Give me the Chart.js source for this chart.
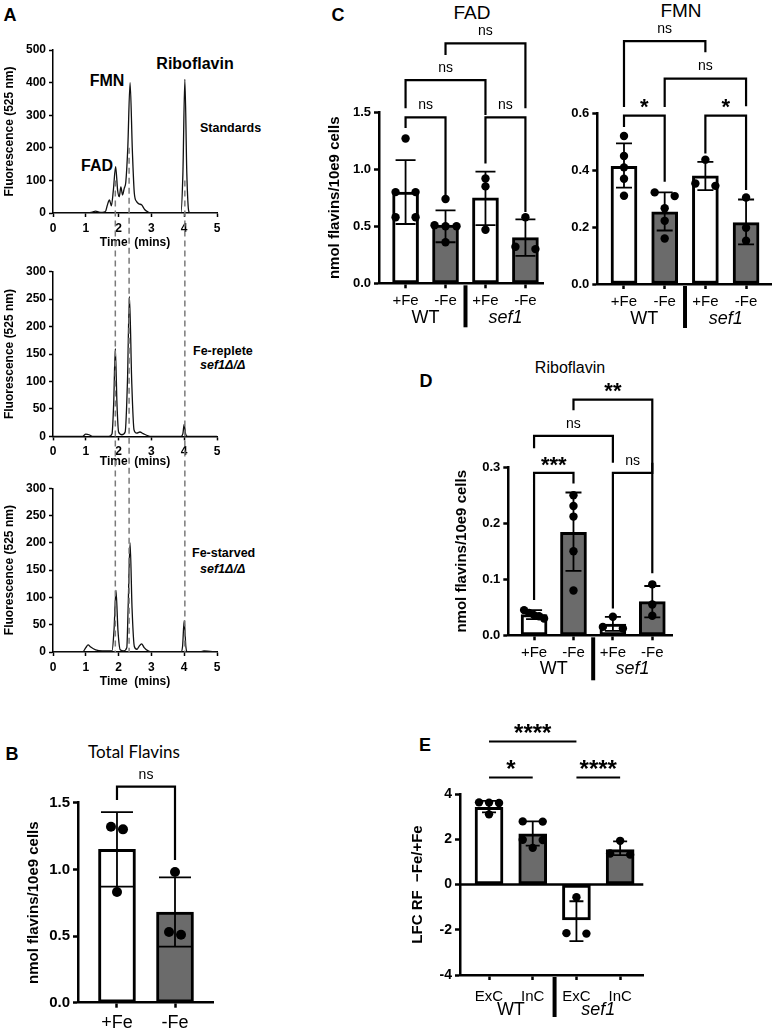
<!DOCTYPE html>
<html>
<head>
<meta charset="utf-8">
<title>Flavins</title>
<script src="https://cdn.jsdelivr.net/npm/chart.js@4.4.1/dist/chart.umd.min.js"></script>
<style>
  html, body { margin: 0; padding: 0; background: #fff; }
  #page { position: relative; width: 778px; height: 1032px; overflow: hidden;
          font-family: "Liberation Sans", Arial, sans-serif; color: #000; }
  #page canvas { position: absolute; left: 0; top: 0; }
  .t { position: absolute; white-space: nowrap; line-height: 1; transform: translate(-50%, -50%); }
  .l { transform: translate(0, -50%); }
  .b { font-weight: bold; }
  .i { font-style: italic; }
</style>
</head>
<body>
<div id="page">
  <!-- panel letters -->
  <div class="t b" style="left:10px;top:15px;font-size:18px">A</div>
  <div class="t b" style="left:12px;top:754px;font-size:18px">B</div>
  <div class="t b" style="left:338px;top:15px;font-size:18px">C</div>
  <div class="t b" style="left:426px;top:381px;font-size:18px">D</div>
  <div class="t b" style="left:425px;top:745px;font-size:18px">E</div>

  <!-- panel A annotations -->
  <div class="t b" style="left:107px;top:81px;font-size:16px">FMN</div>
  <div class="t b" style="left:195px;top:64px;font-size:16px">Riboflavin</div>
  <div class="t b" style="left:97px;top:166px;font-size:16px">FAD</div>
  <div class="t b l" style="left:200px;top:128px;font-size:12.5px">Standards</div>
  <div class="t b l" style="left:193px;top:351px;font-size:12.5px">Fe-replete</div>
  <div class="t b i l" style="left:200px;top:365px;font-size:12.5px">sef1Δ/Δ</div>
  <div class="t b l" style="left:192px;top:553px;font-size:12.5px">Fe-starved</div>
  <div class="t b i l" style="left:200px;top:569px;font-size:12.5px">sef1Δ/Δ</div>

  <!-- panel titles -->
  <div class="t" style="left:134px;top:751px;font-size:17px;font-family:Lato,sans-serif">Total Flavins</div>
  <div class="t" style="left:472px;top:12px;font-size:19px">FAD</div>
  <div class="t" style="left:681px;top:10px;font-size:19px">FMN</div>
  <div class="t" style="left:570px;top:368px;font-size:16px">Riboflavin</div>
</div>

<script>
// ---------- A: HPLC traces (time in mins, fluorescence at 525 nm) ----------
const stdTime  = [0, 0.5, 1.0, 1.2, 1.3, 1.4, 1.5, 1.6, 1.66, 1.72, 1.78, 1.84, 1.91, 1.97, 2.02, 2.07, 2.12, 2.17, 2.22, 2.28, 2.35, 2.42, 2.48, 2.55, 2.62, 2.7, 2.8, 2.9, 3.0, 3.5, 3.9, 3.96, 4.02, 4.08, 4.14, 4.2, 4.6, 5.0];
const stdFluor = [0, 0, 0, 3, 6, 3, 2, 5, 25, 40, 22, 70, 142, 70, 50, 80, 55, 75, 95, 200, 400, 190, 60, 35, 28, 25, 10, 3, 0, 0, 0, 120, 410, 120, 5, 0, 0, 0];

const repTime  = [0, 0.9, 1.0, 1.1, 1.2, 1.7, 1.8, 1.85, 1.9, 1.95, 2.0, 2.1, 2.2, 2.27, 2.33, 2.4, 2.47, 2.55, 2.65, 2.75, 2.9, 3.0, 3.9, 3.96, 4.0, 4.04, 4.1, 5.0];
const repFluor = [0, 0, 4, 3, 0, 0, 5, 60, 160, 60, 8, 3, 8, 100, 255, 100, 12, 6, 8, 5, 1, 0, 0, 5, 22, 5, 0, 0];

const stvTime  = [0, 0.9, 1.0, 1.07, 1.15, 1.3, 1.5, 1.8, 1.86, 1.92, 1.98, 2.05, 2.15, 2.25, 2.29, 2.35, 2.41, 2.48, 2.56, 2.62, 2.7, 2.78, 2.9, 3.0, 3.9, 3.95, 4.0, 4.05, 4.1, 4.5, 4.6, 5.0];
const stvFluor = [0, 0, 8, 13, 9, 4, 2, 2, 40, 113, 40, 4, 2, 8, 80, 200, 80, 10, 5, 10, 15, 8, 2, 0, 0, 10, 58, 10, 0, 0, 2, 0];

const peakTimes = [1.9, 2.32, 4.02];     // FAD, FMN, riboflavin
const peakGuideFrom = [100, 200, 100];   // fluorescence on the standards trace where guides start

// ---------- B: total flavins ----------
const totalLabels = ["+Fe", "-Fe"];
const totalMean = [1.15, 0.68];
const totalErr = [[0.87, 1.43], [0.42, 0.94]];
const totalPts = [[1.32, 1.30, 0.83], [0.98, 0.51, 0.53]];
const totalSig = [[0, 1, 1.62, 1.52, 1.07, "ns"]];

// ---------- C: FAD and FMN ----------
const feLabels = ["+Fe", "-Fe", "+Fe", "-Fe"];
const strainGroups = ["WT", "sef1"];

const fadMean = [0.80, 0.51, 0.75, 0.40];
const fadErr = [[0.52, 1.08], [0.36, 0.64], [0.51, 0.98], [0.24, 0.56]];
const fadPts = [[1.27, 0.80, 0.80, 0.58, 0.58], [0.74, 0.51, 0.50, 0.50, 0.36], [0.92, 0.85, 0.47], [0.58, 0.30, 0.32]];
const fadSig = [[0, 1, 1.456, 1.362, 0.76, "ns"], [2, 3, 1.456, 1.05, 0.625, "ns"],
                [0, 2, 1.783, 1.535, 1.476, "ns"], [1, 3, 2.105, 2.003, 1.535, "ns"]];

const fmnMean = [0.414, 0.254, 0.38, 0.216];
const fmnErr = [[0.339, 0.494], [0.188, 0.322], [0.33, 0.429], [0.139, 0.297]];
const fmnPts = [[0.52, 0.45, 0.41, 0.37, 0.31], [0.322, 0.309, 0.266, 0.222, 0.16], [0.437, 0.353, 0.345], [0.304, 0.198, 0.152]];
const fmnSig = [[0, 1, 0.592, 0.552, 0.359, "*"], [2, 3, 0.592, 0.459, 0.33, "*"],
                [0, 2, 0.854, 0.622, 0.815, "ns"], [1, 3, 0.722, 0.622, 0.625, "ns"]];

// ---------- D: riboflavin ----------
const riboMean = [0.037, 0.184, 0.02, 0.06];
const riboErr = [[0.029, 0.045], [0.115, 0.255], [0.008, 0.033], [0.032, 0.088]];
const riboPts = [[0.045, 0.040, 0.036, 0.034, 0.030], [0.25, 0.231, 0.212, 0.15, 0.08], [0.033, 0.015, 0.012], [0.091, 0.055, 0.035]];
const riboSig = [[0, 1, 0.290, 0.063, 0.271, "***"], [0, 2, 0.356, 0.334, 0.308, "ns"],
                 [2, 3, 0.290, 0.048, 0.308, "ns"], [1, 3, 0.421, 0.402, 0.111, "**"]];

// ---------- E: log fold change of riboflavin ----------
const lfcLabels = ["ExC", "InC", "ExC", "InC"];
const lfcMean = [3.41, 2.24, -1.57, 1.54];
const lfcErr = [[3.19, 3.70], [1.72, 2.79], [-2.5, -0.74], [1.3, 1.91]];
const lfcPts = [[3.63, 3.62, 3.60, 3.1], [2.79, 2.78, 1.98, 1.97, 1.62], [-0.56, -2.15, -2.17], [1.93, 1.37, 1.32]];
const lfcSig = [[0, 2, 6.32, 6.32, 6.32, "****"], [0, 1, 4.73, 4.73, 4.73, "*"], [2, 3, 4.73, 4.73, 4.73, "****"]];

// ---------------------------------------------------------------------------
const W = 778, H = 1032;
const FONT = '"Liberation Sans", Arial, sans-serif';
const GREY = "#6b6b6b";
Chart.defaults.font.family = FONT;
Chart.defaults.color = "#000";

function newCanvas() {
  const cv = document.createElement("canvas");
  cv.width = W;
  cv.height = H;
  document.getElementById("page").appendChild(cv);
  return cv;
}

// padding so that the plot area lands on the given box
function padFor(area, yw, xh) {
  return { left: area.l - yw, top: area.t, right: W - area.r, bottom: H - area.b - xh };
}

function axisLook(width, tick) {
  return {
    offset: false,
    grid: { display: true, offset: false, drawOnChartArea: false, drawTicks: true, tickLength: tick, tickWidth: width, tickColor: "#000" },
    border: { display: true, color: "#000", width: width },
  };
}

// ---------- chromatogram ----------
const traces = [];
function chromChart(time, fluor, area, yMax, yStep, xTitleY, extra) {
  const yw = area.l - 10 + 7.2;
  const xh = xTitleY - area.b + 7.2;
  const chart = new Chart(newCanvas(), {
    type: "line",
    data: {
      datasets: [{
        data: time.map((t, i) => ({ x: t, y: fluor[i] })),
        borderColor: "#111",
        borderWidth: 1.3,
        pointRadius: 0,
        cubicInterpolationMode: "monotone",
      }],
    },
    options: {
      responsive: false, animation: false, devicePixelRatio: 1, events: [],
      layout: { padding: padFor(area, yw, xh) },
      plugins: { legend: { display: false }, tooltip: { enabled: false } },
      scales: {
        x: Object.assign({
          type: "linear", min: 0, max: 5,
          afterFit: (s) => { s.height = xh; },
          ticks: { stepSize: 1, font: { size: 12, weight: "bold" }, padding: 4, maxRotation: 0 },
          title: { display: true, text: "Time  (mins)", font: { size: 12, weight: "bold" }, padding: 0 },
        }, axisLook(1.5, 4)),
        y: Object.assign({
          min: 0, max: yMax,
          afterFit: (s) => { s.width = yw; },
          ticks: { stepSize: yStep, font: { size: 12, weight: "bold" }, padding: 3 },
          title: { display: true, text: "Fluorescence (525 nm)", font: { size: 12, weight: "bold" }, padding: 0 },
        }, axisLook(1.5, 4)),
      },
    },
    plugins: extra ? [extra] : [],
  });
  traces.push(chart);
  return chart;
}

const peakGuides = {
  id: "peakGuides",
  afterDraw(chart) {
    const { ctx, scales: { x, y } } = chart;
    const top = traces[0].scales.y;
    ctx.save();
    ctx.strokeStyle = "#7a7a7a";
    ctx.lineWidth = 1.5;
    ctx.setLineDash([6, 4]);
    peakTimes.forEach((t, k) => {
      const px = x.getPixelForValue(t);
      ctx.beginPath();
      ctx.moveTo(px, top.getPixelForValue(peakGuideFrom[k]));
      ctx.lineTo(px, y.getPixelForValue(0));
      ctx.stroke();
    });
    ctx.restore();
  },
};

chromChart(stdTime, stdFluor, { l: 53, r: 217, t: 50, b: 213 }, 500, 100, 243);
chromChart(repTime, repFluor, { l: 53, r: 217, t: 271.7, b: 436.4 }, 300, 50, 462);
chromChart(stvTime, stvFluor, { l: 53, r: 217, t: 488.3, b: 652 }, 300, 50, 682, peakGuides);

// ---------- bar + dot panels ----------
// spread dots that would overlap sideways, like a scatter dot plot
function spread(vals, tol, step, maxW) {
  const order = vals.map((v, i) => i).sort((m, n) => vals[n] - vals[m]);
  const off = vals.map(() => 0);
  let grp = [];
  const place = () => {
    const n = grp.length;
    const w = Math.min((n - 1) * step, maxW);
    grp.forEach((k, j) => { off[k] = n > 1 ? -w / 2 + (j * w) / (n - 1) : 0; });
  };
  order.forEach((k) => {
    if (grp.length && vals[grp[grp.length - 1]] - vals[k] > tol) { place(); grp = []; }
    grp.push(k);
  });
  place();
  return off;
}

function barPanel(p) {
  const a = p.area;
  const pxX = (a.r - a.l) / (p.xMax - p.xMin);
  const pxY = (a.b - a.t) / (p.yMax - p.yMin);
  const dots = [];
  p.pts.forEach((vals, i) => {
    spread(vals, 5 / pxY, p.jit / pxX, p.jitMax / pxX).forEach((dx, k) => dots.push({ x: i + dx, y: vals[k] }));
  });
  const yw = p.yTitle ? a.l - p.yTitleX + 9 : 30;
  const xh = p.xh || 40;

  const marks = {
    id: "marks",
    afterDatasetsDraw(chart) {
      const { ctx, scales: { x, y } } = chart;
      ctx.save();
      ctx.strokeStyle = "#000";
      if (p.zeroLine) {
        ctx.lineWidth = 2.5;
        ctx.beginPath();
        ctx.moveTo(x.left, y.getPixelForValue(0));
        ctx.lineTo(x.right, y.getPixelForValue(0));
        ctx.stroke();
      }
      ctx.lineWidth = 1.8;
      p.err.forEach((e, i) => {
        const px = x.getPixelForValue(i);
        const lo = y.getPixelForValue(e[0]);
        const hi = y.getPixelForValue(e[1]);
        ctx.beginPath();
        ctx.moveTo(px, lo); ctx.lineTo(px, hi);
        ctx.moveTo(px - p.cap, lo); ctx.lineTo(px + p.cap, lo);
        ctx.moveTo(px - p.cap, hi); ctx.lineTo(px + p.cap, hi);
        ctx.stroke();
      });
      ctx.restore();
    },
    afterDraw(chart) {
      const { ctx, scales: { x, y }, chartArea } = chart;
      ctx.save();
      ctx.strokeStyle = "#000";
      ctx.fillStyle = "#000";
      ctx.textAlign = "center";
      ctx.textBaseline = "middle";
      ctx.lineWidth = 2.2;
      p.sig.forEach(([i, j, top, endL, endR, txt]) => {
        const xl = x.getPixelForValue(i), xr = x.getPixelForValue(j), yt = y.getPixelForValue(top);
        ctx.beginPath();
        ctx.moveTo(xl, y.getPixelForValue(endL));
        ctx.lineTo(xl, yt);
        ctx.lineTo(xr, yt);
        ctx.lineTo(xr, y.getPixelForValue(endR));
        ctx.stroke();
        const star = txt.indexOf("*") >= 0;
        ctx.font = star ? "bold " + p.starSize + "px " + FONT : "14px " + FONT;
        ctx.fillText(txt, (xl + xr) / 2, yt - 12 + (star ? p.starSize * 0.22 : 0));
      });
      if (p.groups) {
        p.groups.forEach((g, k) => {
          ctx.font = (k === 1 ? "italic " : "") + "18px " + FONT;
          const cx = (x.getPixelForValue(2 * k) + x.getPixelForValue(2 * k + 1)) / 2;
          ctx.fillText(g, cx, chartArea.bottom + p.groupDy);
        });
        const sx = x.getPixelForValue(1.5);
        ctx.lineWidth = 4;
        ctx.beginPath();
        ctx.moveTo(sx, chartArea.bottom + 2);
        ctx.lineTo(sx, chartArea.bottom + p.sepLen);
        ctx.stroke();
      }
      ctx.restore();
    },
  };

  return new Chart(newCanvas(), {
    type: "bar",
    data: {
      datasets: [
        {
          type: "scatter",
          data: dots,
          pointRadius: p.dot,
          pointBackgroundColor: "#000",
          pointBorderWidth: 0,
          order: 1,
        },
        {
          type: "bar",
          data: p.mean.map((m, i) => ({ x: i, y: m })),
          backgroundColor: p.mean.map((m, i) => (i % 2 === 0 ? "#fff" : GREY)),
          borderColor: "#000",
          borderWidth: 3,
          borderSkipped: false,
          barThickness: p.barPx,
          order: 2,
        },
      ],
    },
    options: {
      responsive: false, animation: false, devicePixelRatio: 1, events: [],
      layout: { padding: padFor(a, yw, xh) },
      plugins: { legend: { display: false }, tooltip: { enabled: false } },
      scales: {
        x: Object.assign({
          type: "linear", min: p.xMin, max: p.xMax,
          afterBuildTicks: (s) => { s.ticks = p.labels.map((l, i) => ({ value: i })); },
          afterFit: (s) => { s.height = xh; },
          ticks: { callback: (v) => p.labels[v], autoSkip: false, maxRotation: 0, font: { size: p.xFont }, padding: p.xPad },
        }, axisLook(2.5, 5)),
        y: Object.assign({
          min: p.yMin, max: p.yMax,
          afterFit: (s) => { s.width = yw; },
          ticks: { stepSize: p.yStep, callback: (v) => v.toFixed(p.dec), font: { size: p.yFont, weight: "bold" }, padding: 3 },
          title: { display: !!p.yTitle, text: p.yTitle, font: { size: 15, weight: "bold" }, padding: 0 },
        }, axisLook(2.5, 5)),
      },
    },
    plugins: [marks],
  });
}

const cellsTitle = "nmol flavins/10e9 cells";

barPanel({
  labels: totalLabels, mean: totalMean, err: totalErr, pts: totalPts, sig: totalSig,
  area: { l: 78, r: 213, t: 802.7, b: 1002.7 }, xMin: -0.672, xMax: 1.655, xh: 29.3,
  yMin: 0, yMax: 1.5, yStep: 0.5, dec: 1, yFont: 15, xFont: 18, xPad: 5,
  yTitle: cellsTitle, yTitleX: 34, barPx: 37, cap: 16, dot: 5, jit: 12, jitMax: 12, starSize: 22,
});

barPanel({
  labels: feLabels, mean: fadMean, err: fadErr, pts: fadPts, sig: fadSig, groups: strainGroups,
  area: { l: 379, r: 543, t: 112.3, b: 283.3 }, xMin: -0.665, xMax: 3.44,
  yMin: 0, yMax: 1.5, yStep: 0.5, dec: 1, yFont: 13, xFont: 15, xPad: 4,
  yTitle: cellsTitle, yTitleX: 334.5, barPx: 26, cap: 10, dot: 4.2, jit: 20, jitMax: 22, starSize: 22,
  groupDy: 35, sepLen: 44,
});

barPanel({
  labels: feLabels, mean: fmnMean, err: fmnErr, pts: fmnPts, sig: fmnSig, groups: strainGroups,
  area: { l: 597.3, r: 771.7, t: 113.3, b: 284 }, xMin: -0.656, xMax: 3.63,
  yMin: 0, yMax: 0.6, yStep: 0.2, dec: 1, yFont: 13, xFont: 15, xPad: 4,
  yTitle: "", barPx: 26, cap: 8, dot: 4.2, jit: 20, jitMax: 22, starSize: 22,
  groupDy: 35, sepLen: 44,
});

barPanel({
  labels: feLabels, mean: riboMean, err: riboErr, pts: riboPts, sig: riboSig, groups: strainGroups,
  area: { l: 508.3, r: 672, t: 467.3, b: 635.3 }, xMin: -0.654, xMax: 3.5,
  yMin: 0, yMax: 0.3, yStep: 0.1, dec: 1, yFont: 13, xFont: 15, xPad: 4,
  yTitle: cellsTitle, yTitleX: 461.7, barPx: 26, cap: 8, dot: 4.2, jit: 20, jitMax: 20, starSize: 22,
  groupDy: 34, sepLen: 45,
});

barPanel({
  labels: lfcLabels, mean: lfcMean, err: lfcErr, pts: lfcPts, sig: lfcSig, groups: strainGroups,
  area: { l: 460, r: 643.3, t: 794, b: 975 }, xMin: -0.664, xMax: 3.53,
  yMin: -4, yMax: 4, yStep: 2, dec: 0, yFont: 14, xFont: 15, xPad: 8,
  yTitle: "LFC RF  \u2212Fe/+Fe", yTitleX: 417.5, barPx: 28, cap: 7, dot: 4.2, jit: 20, jitMax: 20, starSize: 24,
  groupDy: 35, sepLen: 42, zeroLine: true,
});
</script>
</body>
</html>
